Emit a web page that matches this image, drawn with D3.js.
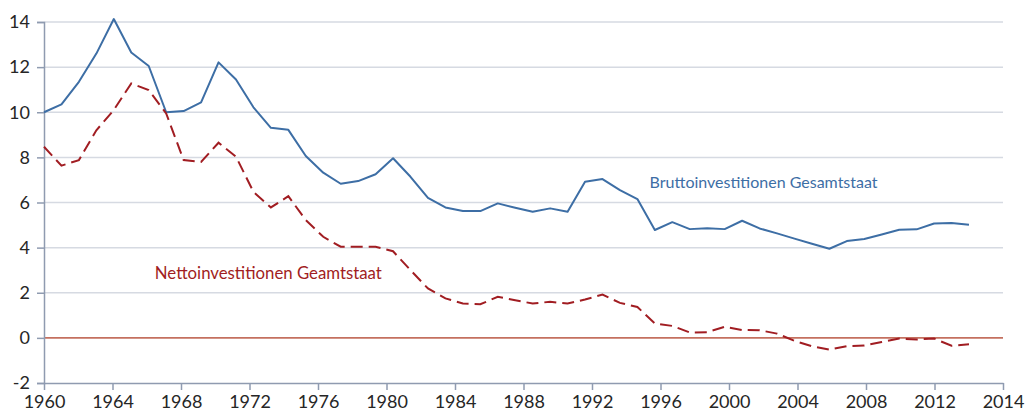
<!DOCTYPE html>
<html>
<head>
<meta charset="utf-8">
<script src="https://cdn.jsdelivr.net/npm/d3@7"></script>
<style>
  body { margin: 0; background: #fff; }
  text { font-family: Lato, "Open Sans", sans-serif; }
</style>
</head>
<body>
<div id="chart"></div>
<script>
// Investitionen Gesamtstaat, in Prozent (1960 - 2013)
var years = d3.range(1960, 2014);

var brutto = [10.0, 10.35, 11.35, 12.6, 14.13, 12.65, 12.05, 10.0, 10.05, 10.44,
              12.21, 11.45, 10.22, 9.31, 9.22, 8.06, 7.32, 6.83, 6.95, 7.25,
              7.96, 7.14, 6.2, 5.78, 5.62, 5.62, 5.96, 5.77, 5.59, 5.74,
              5.59, 6.92, 7.04, 6.55, 6.15, 4.78, 5.13, 4.82, 4.86, 4.82,
              5.19, 4.85, 4.63, 4.40, 4.17, 3.95, 4.29, 4.38, 4.58, 4.79,
              4.81, 5.07, 5.09, 5.01];

var netto = [8.47, 7.63, 7.88, 9.2, 10.1, 11.28, 10.98, 9.95, 7.88, 7.8,
             8.65, 8.03, 6.47, 5.78, 6.28, 5.22, 4.48, 4.04, 4.04, 4.04,
             3.84, 3.0, 2.19, 1.75, 1.52, 1.49, 1.82, 1.67, 1.52, 1.6,
             1.52, 1.70, 1.92, 1.55, 1.37, 0.64, 0.53, 0.24, 0.25, 0.49,
             0.35, 0.34, 0.19, -0.13, -0.37, -0.52, -0.37, -0.34, -0.18, -0.03,
             -0.07, -0.03, -0.35, -0.28];

var xTickLabels = ["1960", "1964", "1968", "1972", "1976", "1980", "1984", "1988",
                   "1992", "1996", "2000", "2004", "2008", "2012", "2014"];
var yTicks = [-2, 0, 2, 4, 6, 8, 10, 12, 14];

var labelBrutto = "Bruttoinvestitionen Gesamtstaat";
var labelNetto = "Nettoinvestitionen Geamtstaat";

var width = 1030;
var height = 412;
var margin = { top: 22, right: 27, bottom: 29, left: 44 };

var svg = d3.select('#chart').append('svg')
    .attr('width', width)
    .attr('height', height);

// data scale (one step per year)
var x = d3.scaleLinear()
    .domain([1960, 2013])
    .range([margin.left, 969]);

// axis labels sit on their own evenly spaced positions
var xAxisScale = d3.scalePoint()
    .domain(xTickLabels)
    .range([margin.left, width - margin.right]);

var y = d3.scaleLinear()
    .domain([-2, 14])
    .range([height - margin.bottom, margin.top]);

var axisColor = "#8f9bb0";

// gridlines
svg.append("g")
    .selectAll("line")
    .data(yTicks.filter(function (d) { return d !== 0 && d !== -2; }))
    .join("line")
    .attr("x1", margin.left)
    .attr("x2", width - margin.right)
    .attr("y1", function (d) { return y(d); })
    .attr("y2", function (d) { return y(d); })
    .attr("stroke", "#d6dae2")
    .attr("stroke-width", 1.5);

// zero line
svg.append("line")
    .attr("x1", margin.left)
    .attr("x2", width - margin.right)
    .attr("y1", y(0))
    .attr("y2", y(0))
    .attr("stroke", "#c4705f")
    .attr("stroke-width", 1.6);

// y axis
var yAxis = svg.append("g")
    .attr("transform", "translate(" + margin.left + ",0)")
    .call(d3.axisLeft(y).tickValues(yTicks).tickSize(7).tickPadding(7)
        .tickFormat(function (d) { return String(d); }));
yAxis.select(".domain").attr("stroke", axisColor).attr("stroke-width", 1.5);
yAxis.selectAll(".tick line").attr("stroke", axisColor).attr("stroke-width", 1.5);
yAxis.selectAll(".tick text")
    .attr("font-size", 18)
    .attr("fill", "#262626")
    .style("font-family", "Lato, sans-serif");

// x axis
var xAxis = svg.append("g")
    .attr("transform", "translate(0," + y(-2) + ")")
    .call(d3.axisBottom(xAxisScale).tickSize(7).tickPadding(5).tickSizeOuter(0));
xAxis.select(".domain").attr("stroke", axisColor).attr("stroke-width", 1.5);
xAxis.selectAll(".tick line").attr("stroke", axisColor).attr("stroke-width", 1.5);
xAxis.selectAll(".tick text")
    .attr("font-size", 18)
    .attr("fill", "#262626")
    .style("font-family", "Lato, sans-serif");

var line = function (values) {
    return d3.line()
        .x(function (d, i) { return x(years[i]); })
        .y(function (d) { return y(d); })(values);
};

svg.append("path")
    .attr("d", line(brutto))
    .attr("fill", "none")
    .attr("stroke", "#3d6ea5")
    .attr("stroke-width", 2)
    .attr("stroke-linejoin", "round");

svg.append("path")
    .attr("d", line(netto))
    .attr("fill", "none")
    .attr("stroke", "#a11d22")
    .attr("stroke-width", 2)
    .attr("stroke-dasharray", "12,6");

// series labels
svg.append("text")
    .attr("x", x(1994.7))
    .attr("y", y(6.9))
    .attr("dy", "0.35em")
    .attr("font-size", 16)
    .attr("fill", "#3d6ea5")
    .text(labelBrutto);

svg.append("text")
    .attr("x", x(1966.35))
    .attr("y", y(2.85))
    .attr("dy", "0.35em")
    .attr("font-size", 16.8)
    .attr("fill", "#a11d22")
    .text(labelNetto);
</script>
</body>
</html>
